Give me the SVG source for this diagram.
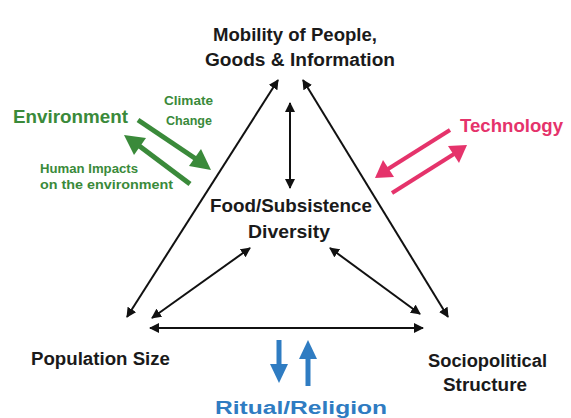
<svg xmlns="http://www.w3.org/2000/svg" width="571" height="418" viewBox="0 0 571 418">
<defs>
<style>
text{font-family:"Liberation Sans",Arial,sans-serif;font-weight:bold}
.k{fill:#1a1a1a;font-size:18px}
.g{fill:#3a8a3a}
.p{fill:#e5336b}
.b{fill:#2f7cc2}
.ln{stroke:#111;stroke-width:2;fill:none}
</style>
<marker id="ah" viewBox="0 0 10 10" refX="9" refY="5" markerWidth="5" markerHeight="5" orient="auto-start-reverse">
<path d="M0,0 L10,5 L0,10 z" fill="#111"/>
</marker>
</defs>
<rect width="571" height="418" fill="#fff"/>

<g id="mobility">
<text class="k" x="213" y="41" textLength="164" lengthAdjust="spacingAndGlyphs">Mobility of People,</text>
<text class="k" x="205" y="66" textLength="190" lengthAdjust="spacingAndGlyphs">Goods &amp; Information</text>
</g>
<g id="food">
<text class="k" x="210" y="212" font-size="19" textLength="162" lengthAdjust="spacingAndGlyphs">Food/Subsistence</text>
<text class="k" x="248" y="238" font-size="19" textLength="82" lengthAdjust="spacingAndGlyphs">Diversity</text>
</g>
<g id="population">
<text class="k" x="31" y="365" textLength="139" lengthAdjust="spacingAndGlyphs">Population Size</text>
</g>
<g id="sociopolitical">
<text class="k" x="428" y="367" textLength="119" lengthAdjust="spacingAndGlyphs">Sociopolitical</text>
<text class="k" x="443" y="391" textLength="84" lengthAdjust="spacingAndGlyphs">Structure</text>
</g>
<g id="environment">
<text class="g" x="13" y="123" font-size="18" textLength="115" lengthAdjust="spacingAndGlyphs">Environment</text>
<text class="g" x="164" y="105" font-size="12" textLength="49" lengthAdjust="spacingAndGlyphs">Climate</text>
<text class="g" x="166" y="125" font-size="12" textLength="46" lengthAdjust="spacingAndGlyphs">Change</text>
<text class="g" x="40" y="173" font-size="12" textLength="98" lengthAdjust="spacingAndGlyphs">Human Impacts</text>
<text class="g" x="40" y="189" font-size="12" textLength="133" lengthAdjust="spacingAndGlyphs">on the environment</text>
<path d="M138,120 L196,159" stroke="#3a8a3a" stroke-width="5" fill="none"/>
<path d="M211,170 L189,166 L201,149 z" fill="#3a8a3a"/>
<path d="M190,184 L138,145" stroke="#3a8a3a" stroke-width="5" fill="none"/>
<path d="M124,135 L146,138 L134,155 z" fill="#3a8a3a"/>
</g>
<g id="technology">
<text class="p" x="460" y="132" font-size="18" textLength="103" lengthAdjust="spacingAndGlyphs">Technology</text>
<path d="M450,130 L388,169" stroke="#e5336b" stroke-width="4" fill="none"/>
<path d="M375,178 L383,160 L394,177 z" fill="#e5336b"/>
<path d="M392,193 L454,154" stroke="#e5336b" stroke-width="4" fill="none"/>
<path d="M467,145 L459,163 L448,146 z" fill="#e5336b"/>
</g>
<g id="ritual">
<text class="b" x="215" y="414" font-size="18" textLength="172" lengthAdjust="spacingAndGlyphs">Ritual/Religion</text>
<path d="M279,340 L279,366" stroke="#2f7cc2" stroke-width="5" fill="none"/>
<path d="M270,364 L288,364 L279,383 z" fill="#2f7cc2"/>
<path d="M308,386 L308,357" stroke="#2f7cc2" stroke-width="5" fill="none"/>
<path d="M299,359 L317,359 L308,340 z" fill="#2f7cc2"/>
</g>
<g id="connectors">
<path class="ln" d="M278,80 L127,317" marker-start="url(#ah)" marker-end="url(#ah)"/>
<path class="ln" d="M303,80 L448,317" marker-start="url(#ah)" marker-end="url(#ah)"/>
<path class="ln" d="M290,103 L290,188" marker-start="url(#ah)" marker-end="url(#ah)"/>
<path class="ln" d="M250,248 L152,318" marker-start="url(#ah)" marker-end="url(#ah)"/>
<path class="ln" d="M330,248 L420,314" marker-start="url(#ah)" marker-end="url(#ah)"/>
<path class="ln" d="M150,328 L423,328" marker-start="url(#ah)" marker-end="url(#ah)"/>
</g>
</svg>
